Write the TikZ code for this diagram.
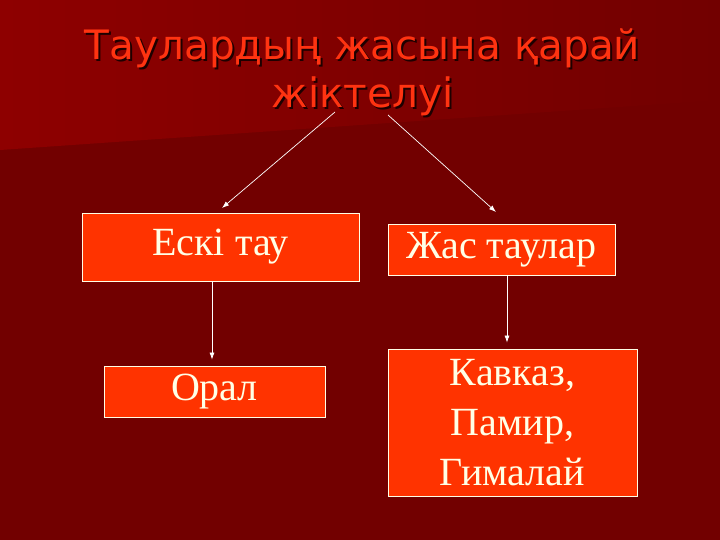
\documentclass[tikz,border=0pt]{standalone}
\usepackage{fontspec}
\setmainfont{Liberation Serif}
\newfontfamily\titlefont{DejaVu Sans}
\usetikzlibrary{arrows.meta,calc}
\definecolor{bgdark}{HTML}{720000}
\definecolor{bglightA}{HTML}{8E0000}
\definecolor{boxred}{HTML}{FF3300}
\definecolor{titlered}{HTML}{FF3311}
\definecolor{cream}{HTML}{FFFFE6}
\tikzset{
  box/.style={draw=cream, line width=0.8pt, fill=boxred, text=cream, inner sep=0pt,
    font=\fontsize{40}{50}\selectfont, align=center},
  conn/.style={draw=white, line width=0.7pt, -{Latex[length=7pt,width=5pt]}},
  ttl/.style={font=\titlefont\fontsize{40.5}{48}\selectfont, align=center, inner sep=0pt}
}
\begin{document}
\begin{tikzpicture}[x=1pt,y=-1pt]
\useasboundingbox (0,0) rectangle (720,540);
\fill[bgdark] (0,0) rectangle (720,540);
\shade[left color=bglightA, right color=bgdark] (0,0) -- (720,0) -- (720,100) -- (0,150) -- cycle;
% title with shadow
\node[ttl, text=black!75!bgdark] at (364.5,74) {Таулардың жасына қарай\\жіктелуі};
\node[ttl, text=titlered] (title) at (362.5,72) {Таулардың жасына қарай\\жіктелуі};
% boxes
\node[box, minimum width=277pt, minimum height=68pt] (eski) at (220.5,247) {\raisebox{-5pt}{Ескі тау}};
\node[box, minimum width=227pt, minimum height=51pt] (zhas) at (501.5,249.5) {\raisebox{-2pt}{Жас таулар}};
\node[box, minimum width=221pt, minimum height=51pt] (oral) at (214.5,391.5) {\raisebox{-4pt}{Орал}};
\node[box, minimum width=249pt, minimum height=147pt] (kav) at (512.5,422.5) {Кавказ,\\Памир,\\Гималай};
% connector points
\coordinate (t1) at (335,112);
\coordinate (t2) at (388,115);
\coordinate (e1) at (222,208);
\coordinate (z1) at (496,212);
\draw[conn] (t1) -- (e1);
\draw[conn] (t2) -- (z1);
\draw[conn] (eski.south -| 212,0) -- ($(oral.north -| 212,0)+(0,-6)$);
\draw[conn] (zhas.south -| 507,0) -- ($(kav.north -| 507,0)+(0,-6)$);
\end{tikzpicture}
\end{document}
